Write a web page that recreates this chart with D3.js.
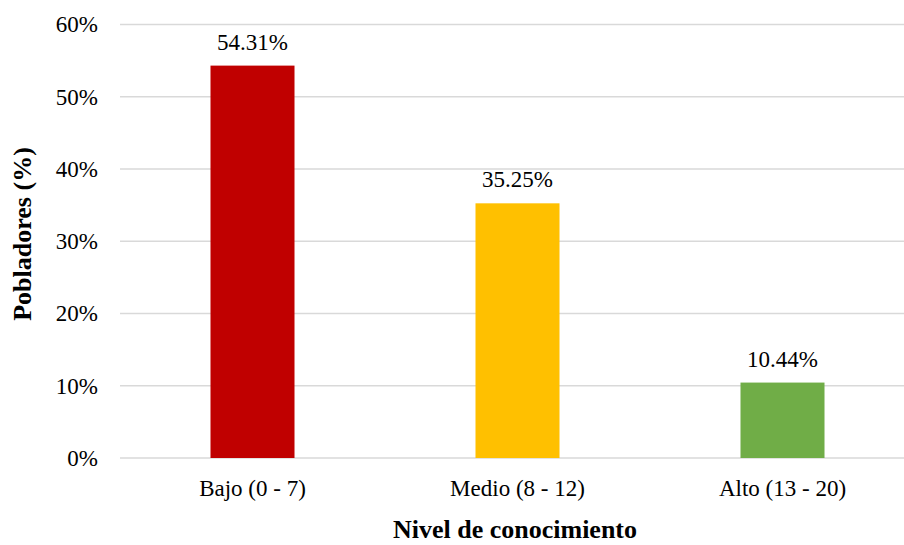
<!DOCTYPE html>
<html>
<head>
<meta charset="UTF-8">
<title>Nivel de conocimiento</title>
<script src="https://cdn.jsdelivr.net/npm/d3@7"></script>
<style type="text/css">
body, html {
    margin: 0;
    background: #fff;
}
svg text {
    font-family: "Times New Roman", "Liberation Serif", "DejaVu Serif", serif !important;
    fill: #000;
}
</style>
</head>
<body>
<div class="barGraph"></div>
<script type="text/javascript">
var categories = ["Bajo (0 - 7)", "Medio (8 - 12)", "Alto (13 - 20)"];
var values     = [54.31, 35.25, 10.44];
var colors     = ["#C00000", "#FFC000", "#70AD47"];
var yTicks     = [0, 10, 20, 30, 40, 50, 60];

var W = 904, H = 545;
var x = d3.scaleBand().domain(categories).range([120, 915]).paddingInner(0.683).paddingOuter(0.3415);
var y = d3.scaleLinear().domain([0, 60]).range([458, 24.5]);

var svg = d3.select(".barGraph").append("svg")
    .attr("width", W)
    .attr("height", H)
    .attr("font-family", "'Times New Roman', 'Liberation Serif', serif");

// gridlines
svg.append("g")
    .selectAll("line")
    .data(yTicks)
    .enter()
    .append("line")
    .attr("x1", 120)
    .attr("x2", W)
    .attr("y1", function (d) { return y(d); })
    .attr("y2", function (d) { return y(d); })
    .attr("stroke", "#d9d9d9")
    .attr("stroke-width", 1.5);

// y axis labels
var yAxis = d3.axisLeft(y).tickValues(yTicks).tickSize(0).tickPadding(22)
    .tickFormat(function (d) { return d + "%"; });
svg.append("g")
    .attr("transform", "translate(120,0)")
    .call(yAxis)
    .attr("font-family", null)
    .call(function (g) { g.select(".domain").remove(); })
    .selectAll("text")
    .attr("font-size", "23px");

// x axis labels
var xAxis = d3.axisBottom(x).tickSize(0).tickPadding(22);
svg.append("g")
    .attr("transform", "translate(0,458)")
    .call(xAxis)
    .attr("font-family", null)
    .call(function (g) { g.select(".domain").remove(); })
    .selectAll("text")
    .attr("font-size", "23px");

// bars
svg.selectAll("rect.bar")
    .data(values)
    .enter()
    .append("rect")
    .attr("class", "bar")
    .attr("x", function (d, i) { return x(categories[i]); })
    .attr("width", x.bandwidth())
    .attr("y", function (d) { return y(d); })
    .attr("height", function (d) { return y(0) - y(d); })
    .attr("fill", function (d, i) { return colors[i]; });

// value labels
svg.selectAll("text.val")
    .data(values)
    .enter()
    .append("text")
    .attr("class", "val")
    .attr("x", function (d, i) { return x(categories[i]) + x.bandwidth() / 2; })
    .attr("y", function (d) { return y(d) - 16; })
    .attr("text-anchor", "middle")
    .attr("font-size", "23px")
    .text(function (d) { return d.toFixed(2) + "%"; });

// axis titles
svg.append("text")
    .attr("x", 515)
    .attr("y", 538)
    .attr("text-anchor", "middle")
    .attr("font-size", "26px")
    .attr("font-weight", "bold")
    .text("Nivel de conocimiento");

svg.append("text")
    .attr("transform", "translate(31,234) rotate(-90)")
    .attr("text-anchor", "middle")
    .attr("font-size", "26px")
    .attr("font-weight", "bold")
    .text("Pobladores (%)");
</script>
</body>
</html>
